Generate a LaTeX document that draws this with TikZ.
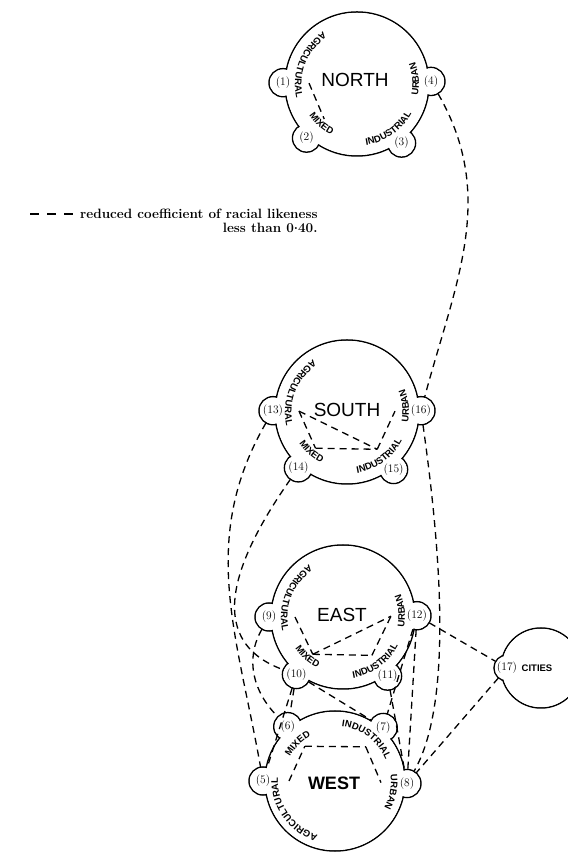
\documentclass[tikz,border=0pt]{standalone}
\usepackage{fontspec}
\setsansfont{Liberation Sans}
\usetikzlibrary{calc,backgrounds,decorations.text}

\begin{document}
\begin{tikzpicture}[
x=1pt, y=1pt,
rim/.style={line width=1.5pt},
num/.style={circle, minimum size=28pt, inner sep=0pt, font=\fontsize{11.5}{11.5}\selectfont},
area/.style={font=\sffamily\fontsize{19}{19}\selectfont},
link/.style={line width=1.3pt, dash pattern=on 7pt off 5pt},
sector/.style={decorate, decoration={text along path, text align=center, text={|\sffamily\bfseries\fontsize{9.5}{11}\selectfont|#1}}},
keytext/.style={font=\bfseries\fontsize{13.5}{16}\selectfont, inner sep=2pt}
]
\useasboundingbox (0,0) rectangle (567,853);

% centres of the groups
\coordinate (N) at (357,769);
\coordinate (S) at (347,441);
\coordinate (E) at (343,236);
\coordinate (W) at (335,72);
\coordinate (C) at (541,185);

% north
\node[num] (n1) at ($(N)+(179:74)$) {(1)};
\node[num] (n2) at ($(N)+(227:74)$) {(2)};
\node[num] (n3) at ($(N)+(307:74)$) {(3)};
\node[num] (n4) at ($(N)+(2:74)$) {(4)};
\node[area] (northname) at (355,773) {NORTH};
\coordinate (n1i) at ($(N)+(179:48)$);
\coordinate (n2i) at ($(N)+(227:48)$);

% south
\node[num] (s13) at ($(S)+(179:74)$) {(13)};
\node[num] (s14) at ($(S)+(229:74)$) {(14)};
\node[num] (s15) at ($(S)+(309:74)$) {(15)};
\node[num] (s16) at ($(S)+(1:74)$) {(16)};
\node[area] (southname) at (347,443) {SOUTH};
\coordinate (s13i) at ($(S)+(179:48)$);
\coordinate (s14i) at ($(S)+(229:48)$);
\coordinate (s15i) at ($(S)+(309:48)$);
\coordinate (s16i) at ($(S)+(1:48)$);

% east
\node[num] (e9) at ($(E)+(180:74)$) {(9)};
\node[num] (e10) at ($(E)+(231:74)$) {(10)};
\node[num] (e11) at ($(E)+(307:74)$) {(11)};
\node[num] (e12) at ($(E)+(1:74)$) {(12)};
\node[area] (eastname) at (342,238) {EAST};
\coordinate (e9i) at ($(E)+(180:48)$);
\coordinate (e10i) at ($(E)+(231:48)$);
\coordinate (e11i) at ($(E)+(307:48)$);
\coordinate (e12i) at ($(E)+(1:48)$);

% west
\node[num] (w5) at ($(W)+(180:72)$) {(5)};
\node[num] (w6) at ($(W)+(131:72)$) {(6)};
\node[num] (w7) at ($(W)+(48:72)$) {(7)};
\node[num] (w8) at ($(W)+(-2:72)$) {(8)};
\node[area, font=\sffamily\bfseries\fontsize{18}{18}\selectfont] (westname) at (334,70) {WEST};
\coordinate (w5i) at ($(W)+(180:46)$);
\coordinate (w6i) at ($(W)+(131:46)$);
\coordinate (w7i) at ($(W)+(48:46)$);
\coordinate (w8i) at ($(W)+(-2:46)$);

% cities
\node[num, minimum size=26pt] (c17) at ($(C)+(180:34)$) {(17)};
\node[font=\sffamily\bfseries\fontsize{9.5}{9.5}\selectfont] (citiesname) at (537,185) {CITIES};

% outlines behind everything
\begin{scope}[on background layer]
\draw[rim] (N) circle[radius=72] (n1.center) circle[radius=14] (n2.center) circle[radius=14]
  (n3.center) circle[radius=14] (n4.center) circle[radius=14];
\fill[white] (N) circle[radius=71.2] (n1.center) circle[radius=13.2] (n2.center) circle[radius=13.2]
  (n3.center) circle[radius=13.2] (n4.center) circle[radius=13.2];
\draw[rim] (S) circle[radius=72] (s13.center) circle[radius=14] (s14.center) circle[radius=14]
  (s15.center) circle[radius=14] (s16.center) circle[radius=14];
\fill[white] (S) circle[radius=71.2] (s13.center) circle[radius=13.2] (s14.center) circle[radius=13.2]
  (s15.center) circle[radius=13.2] (s16.center) circle[radius=13.2];
\draw[rim] (E) circle[radius=72] (e9.center) circle[radius=14] (e10.center) circle[radius=14]
  (e11.center) circle[radius=14] (e12.center) circle[radius=14];
\fill[white] (E) circle[radius=71.2] (e9.center) circle[radius=13.2] (e10.center) circle[radius=13.2]
  (e11.center) circle[radius=13.2] (e12.center) circle[radius=13.2];
\draw[rim] (W) circle[radius=70] (w5.center) circle[radius=14] (w6.center) circle[radius=14]
  (w7.center) circle[radius=14] (w8.center) circle[radius=14];
\fill[white] (W) circle[radius=69.2] (w5.center) circle[radius=13.2] (w6.center) circle[radius=13.2]
  (w7.center) circle[radius=13.2] (w8.center) circle[radius=13.2];
\draw[rim] (C) circle[radius=40] (c17.center) circle[radius=13];
\fill[white] (C) circle[radius=39.2] (c17.center) circle[radius=12.2];
\end{scope}

% sector names along the rims
\path[sector=AGRICULTURAL] ($(N)+(100:62)$) arc[start angle=100, end angle=216, radius=62];
\path[sector=MIXED] ($(N)+(198:57)$) arc[start angle=198, end angle=258, radius=57];
\path[sector=INDUSTRIAL] ($(N)+(255:62)$) arc[start angle=255, end angle=355, radius=62];
\path[sector=URBAN] ($(N)+(-30:62)$) arc[start angle=-30, end angle=40, radius=62];

\path[sector=AGRICULTURAL] ($(S)+(100:62)$) arc[start angle=100, end angle=216, radius=62];
\path[sector=MIXED] ($(S)+(198:57)$) arc[start angle=198, end angle=258, radius=57];
\path[sector=INDUSTRIAL] ($(S)+(256:62)$) arc[start angle=256, end angle=356, radius=62];
\path[sector=URBAN] ($(S)+(-29:62)$) arc[start angle=-29, end angle=41, radius=62];

\path[sector=AGRICULTURAL] ($(E)+(100:62)$) arc[start angle=100, end angle=216, radius=62];
\path[sector=MIXED] ($(E)+(198:57)$) arc[start angle=198, end angle=258, radius=57];
\path[sector=INDUSTRIAL] ($(E)+(256:62)$) arc[start angle=256, end angle=356, radius=62];
\path[sector=URBAN] ($(E)+(-29:62)$) arc[start angle=-29, end angle=41, radius=62];

\path[sector=AGRICULTURAL] ($(W)+(265:57)$) arc[start angle=265, end angle=164, radius=57];
\path[sector=MIXED] ($(W)+(165:51)$) arc[start angle=165, end angle=105, radius=51];
\path[sector=INDUSTRIAL] ($(W)+(100:55)$) arc[start angle=100, end angle=6, radius=55];
\path[sector=URBAN] ($(W)+(20:56)$) arc[start angle=20, end angle=-42, radius=56];

% links inside the groups
\draw[link] (n1i) -- (n2i);
\draw[link] (s13i) -- (s14i);
\draw[link] (s13i) -- (s15i);
\draw[link] (s14i) -- (s15i);
\draw[link] (s15i) -- (s16i);
\draw[link] (e9i) -- (e10i);
\draw[link] (e10i) -- (e11i);
\draw[link] (e10i) -- (e12i);
\draw[link] (e11i) -- (e12i);
\draw[link] (w5i) -- (w6i);
\draw[link] (w6i) -- (w7i);
\draw[link] (w7i) -- (w8i);

% links between the groups
\draw[link] (n4) to[out=-60, in=75] (s16);
\draw[link] (s13) to[out=240, in=100] (w5);
\draw[link] (s14) to[out=235, in=160, looseness=1.2] (e10);
\draw[link] (s16) .. controls +(-82:150) and +(60:90) .. (w8);
\draw[link] (e9) to[out=240, in=135] (w6);
\draw[link] (e10) -- (w5);
\draw[link] (e10) -- (w6);
\draw[link] (e10) -- (w7);
\draw[link] (e11) -- (w8);
\draw[link] (e12) -- (w7);
\draw[link] (e12) -- (w8);
\draw[link] (e12) -- (c17);
\draw[link] (c17) -- (w8);

% key
\coordinate (keyfrom) at (30,639);
\node[keytext, anchor=west] (key) at (78,639) {reduced coefficient of racial likeness};
\node[keytext, anchor=north east] (keynote) at (key.south east) {less than 0\raisebox{0.5ex}{.}40.};
\draw[link, dash pattern=on 9pt off 8pt] (keyfrom) -- (key);
\end{tikzpicture}
\end{document}
